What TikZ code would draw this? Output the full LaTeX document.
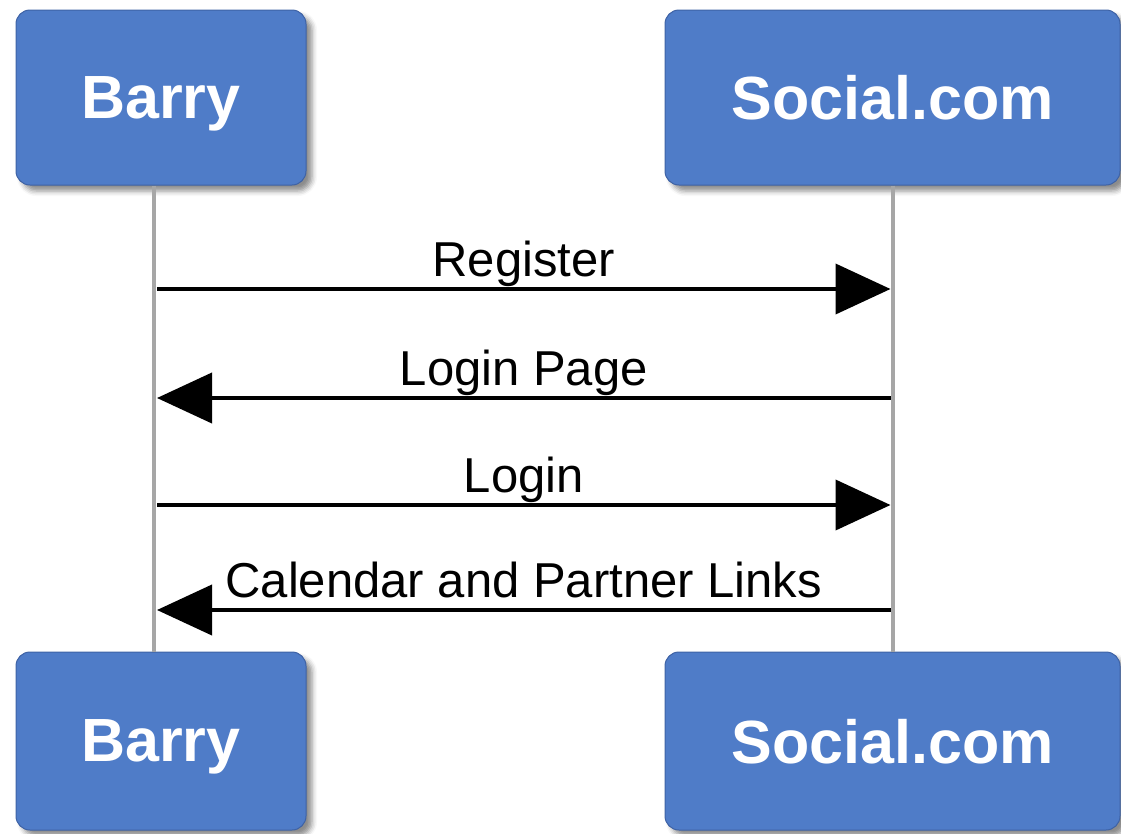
\documentclass[tikz,border=0pt]{standalone}
\usepackage{fontspec}
\setmainfont{Liberation Sans}
\usepackage{xcolor}
\usetikzlibrary{arrows.meta,shadows.blur}
\definecolor{boxblue}{RGB}{79,124,200}
\definecolor{boxedge}{RGB}{62,98,165}
\tikzset{
	actor/.style={
			draw=boxedge, line width=1pt, fill=boxblue, rounded corners=14pt,
			text=white, text depth=0pt, font=\fontsize{61}{72}\selectfont\bfseries,
			blur shadow={shadow xshift=6pt, shadow yshift=-6pt, shadow blur radius=5pt, shadow opacity=45}
		},
	lifeline/.style={draw=gray!70, line width=4pt},
	msg/.style={draw=black, line width=4pt, -{Triangle[length=55pt,width=50pt]}},
	msglabel/.style={anchor=base, yshift=13pt, font=\fontsize{49}{58}\selectfont}
}

\begin{document}
\begin{tikzpicture}[x=1pt,y=-1pt]
			\useasboundingbox (0,0) rectangle (1121,833);

			% Draw the actor boxes
			\node[actor, minimum width=290pt, minimum height=175pt] (barryTop) at (161,97.5) {Barry};
			\node[actor, minimum width=455pt, minimum height=175pt] (socialTop) at (892.5,97.5) {Social.com};
			\node[actor, minimum width=290pt, minimum height=178pt] (barryBot) at (161,741) {Barry};
			\node[actor, minimum width=455pt, minimum height=178pt] (socialBot) at (892.5,741) {Social.com};

			% Draw the lifelines
			\draw[lifeline] ([xshift=-7pt]barryTop.south) -- ([xshift=-7pt]barryBot.north);
			\draw[lifeline] (socialTop.south) -- (socialBot.north);

			% Message end points on the lifelines
			\foreach \i/\y in {1/289, 2/398, 3/505, 4/610} {
				\coordinate (b\i) at (157,\y);
				\coordinate (s\i) at (890.5,\y);
			}

			% Draw the messages
			\draw[msg] (b1) -- node[msglabel] {Register} (s1);
			\draw[msg] (s2) -- node[msglabel] {Login Page} (b2);
			\draw[msg] (b3) -- node[msglabel] {Login} (s3);
			\draw[msg] (s4) -- node[msglabel] {Calendar and Partner Links} (b4);
		\end{tikzpicture}
\end{document}
